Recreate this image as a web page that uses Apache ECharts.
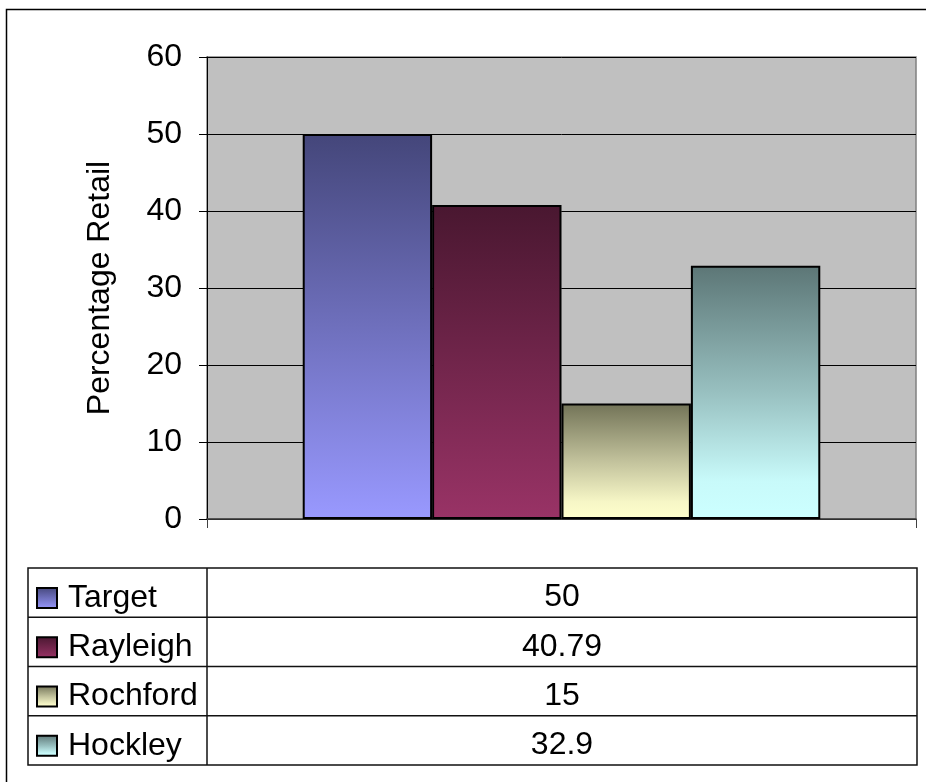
<!DOCTYPE html>
<html>
<head>
<meta charset="utf-8">
<title>Percentage Retail</title>
<script src="https://cdn.jsdelivr.net/npm/echarts@6/dist/echarts.min.js"></script>
<style>
  html, body { margin: 0; padding: 0; background: #ffffff; }
  #chart { width: 926px; height: 782px; }
</style>
</head>
<body>
<div id="chart"></div>
<script>
// Chart data
const categories = [''];
const seriesNames = ['Target', 'Rayleigh', 'Rochford', 'Hockley'];
const seriesValues = [50, 40.79, 15, 32.9];
const yTicks = { min: 0, max: 60, interval: 10 };

// Vertical gradient fills, dark at the top fading to the base colour
const seriesFills = [
  [[0, '#44467a'], [1, '#9999ff']],
  [[0, '#491730'], [1, '#993366']],
  [[0, '#727357'], [0.5, '#c2c29c'], [0.85, '#f6f6c6'], [1, '#ffffcc']],
  [[0, '#5c7676'], [0.5, '#98c0c0'], [0.85, '#c8fafa'], [1, '#ccffff']]
];

const FONT = '"Liberation Sans", Arial, sans-serif';
const FONT_SIZE = 32;

function gradient(stops) {
  return new echarts.graphic.LinearGradient(0, 0, 0, 1,
    stops.map(s => ({ offset: s[0], color: s[1] })));
}

const chart = echarts.init(document.getElementById('chart'), null, { renderer: 'canvas' });

// Data table geometry
const table = { left: 28, divider: 207, right: 917, top: 568, rowH: 49.25 };

const graphics = [];
// outer chart frame
graphics.push({
  type: 'rect', silent: true, z: 0,
  shape: { x: 6.5, y: 9.5, width: 1000, height: 1000 },
  style: { fill: null, stroke: '#000', lineWidth: 1.5 }
});
// table frame
const tableBottom = table.top + table.rowH * seriesNames.length;
graphics.push({
  type: 'rect', silent: true,
  shape: { x: table.left, y: table.top, width: table.right - table.left, height: tableBottom - table.top },
  style: { fill: null, stroke: '#111', lineWidth: 1.5 }
});
graphics.push({
  type: 'line', silent: true,
  shape: { x1: table.divider, y1: table.top, x2: table.divider, y2: tableBottom },
  style: { stroke: '#111', lineWidth: 1.5 }
});
seriesNames.forEach((name, i) => {
  if (i > 0) {
    const y = table.top + table.rowH * i;
    graphics.push({
      type: 'line', silent: true,
      shape: { x1: table.left, y1: y, x2: table.right, y2: y },
      style: { stroke: '#111', lineWidth: 1.5 }
    });
  }
  graphics.push({
    type: 'text', silent: true,
    x: (table.divider + table.right) / 2,
    y: table.top + table.rowH * (i + 0.5) + 5,
    style: {
      text: String(seriesValues[i]),
      font: FONT_SIZE + 'px ' + FONT,
      fill: '#000',
      align: 'center',
      verticalAlign: 'middle'
    }
  });
});

const option = {
  backgroundColor: '#ffffff',
  animation: false,
  textStyle: { fontFamily: FONT },
  grid: {
    left: 207, top: 57, right: 10, bottom: 263,
    show: true,
    backgroundColor: '#c0c0c0',
    borderColor: '#808080',
    borderWidth: 1.5
  },
  legend: {
    orient: 'vertical',
    left: 36,
    top: 582,
    padding: 0,
    itemGap: 17.25,
    itemWidth: 20,
    itemHeight: 20,
    icon: 'rect',
    selectedMode: false,
    itemStyle: { borderColor: '#000', borderWidth: 2 },
    textStyle: { fontSize: FONT_SIZE, lineHeight: FONT_SIZE, color: '#000', fontFamily: FONT, padding: [0, 0, 0, 6] },
    data: seriesNames
  },
  xAxis: {
    type: 'category',
    data: categories,
    boundaryGap: true,
    axisLine: { show: true, lineStyle: { color: '#404040', width: 1.5 } },
    axisTick: { show: true, inside: false, length: 9, interval: 0, lineStyle: { color: '#404040' } },
    axisLabel: { show: false },
    splitLine: { show: false }
  },
  yAxis: {
    type: 'value',
    min: yTicks.min,
    max: yTicks.max,
    interval: yTicks.interval,
    name: 'Percentage Retail',
    nameLocation: 'middle',
    nameGap: 91,
    nameTextStyle: { fontSize: FONT_SIZE, color: '#000', fontFamily: FONT },
    axisLine: { show: true, lineStyle: { color: '#000', width: 1 } },
    axisTick: { show: true, inside: false, length: 8, lineStyle: { color: '#000' } },
    axisLabel: { fontSize: FONT_SIZE, color: '#000', margin: 25, fontFamily: FONT },
    splitLine: { show: true, lineStyle: { color: '#000', width: 1 } }
  },
  series: seriesNames.map((name, i) => ({
    name: name,
    type: 'bar',
    data: [seriesValues[i]],
    barGap: '0%',
    barCategoryGap: '27%',
    itemStyle: {
      color: gradient(seriesFills[i]),
      borderColor: '#000',
      borderWidth: 2
    },
    emphasis: { disabled: true }
  })),
  graphic: graphics
};

chart.setOption(option);
</script>
</body>
</html>
